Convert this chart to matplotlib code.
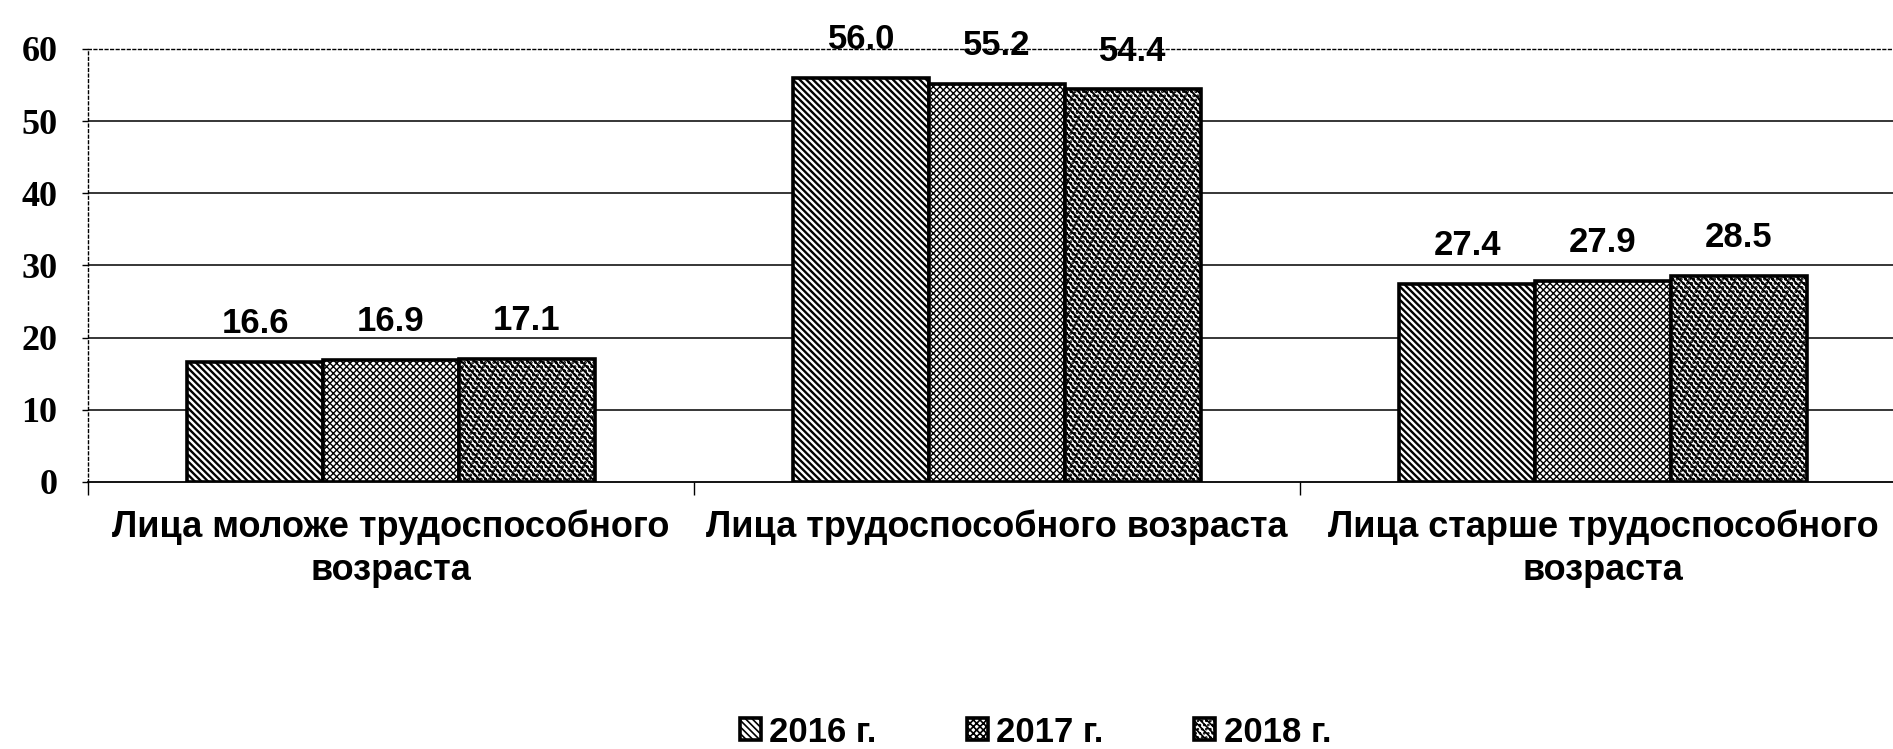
import numpy as np
import matplotlib
matplotlib.use("Agg")
import matplotlib.pyplot as plt

categories = ["Лица моложе трудоспособного\nвозраста",
              "Лица трудоспособного возраста",
              "Лица старше трудоспособного\nвозраста"]
years = ["2016 г.", "2017 г.", "2018 г."]
v2016 = [16.6, 56.0, 27.4]
v2017 = [16.9, 55.2, 27.9]
v2018 = [17.1, 54.4, 28.5]
yticks = [0, 10, 20, 30, 40, 50, 60]

series = [v2016, v2017, v2018]
hatches = ["\\\\\\\\\\", "xxxxx", "\\\\\\\\\\...."]
hatch_lw = [1.7, 1.0, 1.4]

plt.rcParams["hatch.color"] = "black"

fig = plt.figure(figsize=(18.93, 7.49), dpi=100)
ax = fig.add_axes([88 / 1893, 1 - 482 / 749, 1818 / 1893, 433 / 749])

x = np.arange(len(categories))
w = 0.224
for i, vals in enumerate(series):
    plt.rcParams["hatch.linewidth"] = hatch_lw[i]
    pos = x + (i - 1) * w
    bars = ax.bar(pos, vals, w, color="white", edgecolor="black", linewidth=2.6,
                  hatch=hatches[i], label=years[i], zorder=3)
    for b in bars:
        try:
            b.set_hatch_linewidth(hatch_lw[i])
        except AttributeError:
            pass
    for px, v in zip(pos, vals):
        ax.text(px, v + 4, f"{v:.1f}", ha="center", va="baseline",
                fontsize=25, fontweight="bold", family="Liberation Sans")

# grid lines (top one is the dotted frame)
for t in yticks[1:-1]:
    ax.axhline(t, color="black", lw=1.1, zorder=1)

ax.set_xlim(-0.5, 2.5)
ax.set_ylim(0, 60)
ax.set_yticks(yticks)
ax.set_yticklabels([str(t) for t in yticks], fontsize=26, fontweight="bold",
                   family="Liberation Serif")
ax.tick_params(axis="y", length=4, width=1, pad=18)

ax.set_xticks(x)
ax.set_xticklabels(categories, fontsize=26, fontweight="bold",
                   family="Liberation Sans", linespacing=1.3)
ax.tick_params(axis="x", which="major", length=0, pad=20)
ax.set_xticks(np.arange(-0.5, 3, 1), minor=True)
ax.tick_params(axis="x", which="minor", length=9, width=1, direction="out")

ax.spines["right"].set_visible(False)
ax.spines["top"].set_linestyle((0, (2, 2)))
ax.spines["top"].set_linewidth(1)
ax.spines["left"].set_linestyle((0, (2, 2)))
ax.spines["left"].set_linewidth(1)
ax.spines["bottom"].set_linewidth(1.3)

plt.rcParams["hatch.linewidth"] = 1.2
fig.legend(loc="center", bbox_to_anchor=(0.547, 1 - 732 / 749), ncol=3,
           frameon=False, handlelength=0.6, handleheight=0.6,
           handletextpad=0.25, columnspacing=2.6,
           prop={"family": "Liberation Sans", "weight": "bold", "size": 25})

fig.savefig("out.png", dpi=100)
